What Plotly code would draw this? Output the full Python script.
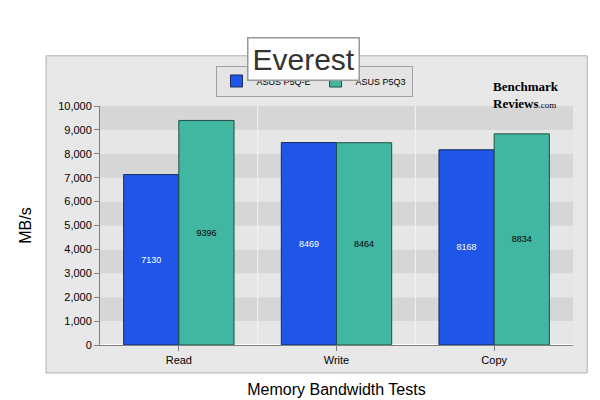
import plotly.graph_objects as go

categories = ["Read", "Write", "Copy"]
p5qe = [7130, 8469, 8168]
p5q3 = [9396, 8464, 8834]
yticks = list(range(0, 10001, 1000))
yticklabels = [f"{v:,}" for v in yticks]

fig = go.Figure()
fig.add_bar(name="ASUS P5Q-E", x=categories, y=p5qe, marker=dict(color="#1f56e8", line=dict(color="#1a2a5a", width=1)),
            text=[str(v) for v in p5qe], textposition="inside", insidetextanchor="middle",
            textfont=dict(color="white", size=9, family="Arial"))
fig.add_bar(name="ASUS P5Q3", x=categories, y=p5q3, marker=dict(color="#41b6a0", line=dict(color="#1f4f45", width=1)),
            text=[str(v) for v in p5q3], textposition="inside", insidetextanchor="middle",
            textfont=dict(color="black", size=9, family="Arial"))

shapes = [dict(type="rect", xref="paper", yref="paper", x0=-0.114, x1=1.03, y0=-0.117, y1=1.21,
               fillcolor="#e8e8e8", line=dict(color="#b0b0b0", width=1), layer="below")]
for k in range(0, 10):
    shapes.append(dict(type="rect", xref="paper", yref="y", x0=0, x1=1, y0=k*1000, y1=(k+1)*1000,
                       fillcolor="#d6d6d6" if k % 2 else "#e6e6e6", line=dict(width=0), layer="below"))
for xv in [0.5, 1.5]:
    shapes.append(dict(type="line", xref="x", yref="paper", x0=xv, x1=xv, y0=0, y1=1,
                       line=dict(color="#f4f4f4", width=1), layer="below"))

fig.update_layout(
    width=600, height=400, barmode="group", bargap=0.3, bargroupgap=0.0,
    paper_bgcolor="white", plot_bgcolor="#e0e0e0",
    margin=dict(l=92, r=35, t=98, b=63, autoexpand=False),
    font=dict(family="Arial", color="black"),
    shapes=shapes,
    legend=dict(orientation="h", xref="container", yref="container", x=0.51, y=0.8175,
                xanchor="center", yanchor="middle",
                bgcolor="#e4e4e4", bordercolor="#a0a0a0", borderwidth=1, font=dict(size=9)),
    xaxis=dict(showgrid=False, showline=True, linecolor="#808080", ticks="outside", tickcolor="#808080",
               automargin=False,
               tickfont=dict(size=11), title=dict(text="Memory Bandwidth Tests", font=dict(size=16), standoff=18)),
    yaxis=dict(range=[0, 10000], tickvals=yticks, ticktext=yticklabels, showgrid=False, showline=True,
               automargin=False,
               linecolor="#808080", ticks="outside", tickcolor="#808080", tickfont=dict(size=11),
               title=dict(text="MB/s", font=dict(size=16), standoff=22)),
    annotations=[
        dict(text="Everest", xref="paper", yref="paper", x=0.43, y=1.29, showarrow=False,
             font=dict(size=30, color="#333"), bgcolor="white", bordercolor="#999", borderwidth=1.5, borderpad=4),
        dict(text="<b>Benchmark<br>Reviews</b><span style='font-size:9px'>.com</span>", xref="paper", yref="paper",
             x=0.9, y=1.12, showarrow=False, align="left", xanchor="center",
             font=dict(size=13, family="Liberation Serif", color="black")),
    ],
)
fig.write_html("out.html")
